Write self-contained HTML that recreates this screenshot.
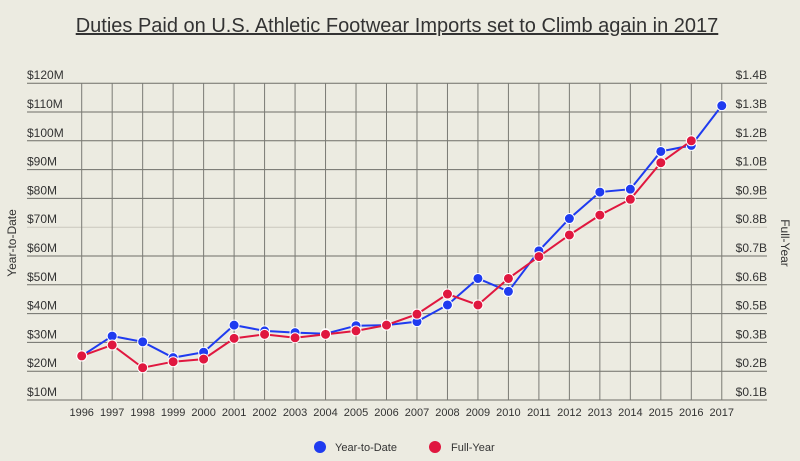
<!DOCTYPE html>
<html><head><meta charset="utf-8"><style>
body{margin:0;background:#ecebe1;}
svg{display:block;font-family:"Liberation Sans",sans-serif;}
</style></head><body>
<svg id="chart" width="800" height="461">
<rect width="800" height="461" fill="#ecebe1"/>
<text x="397" y="32" text-anchor="middle" font-size="20" fill="#333" text-decoration="underline">Duties Paid on U.S. Athletic Footwear Imports set to Climb again in 2017</text>
<g id="grid"></g><g id="axes"></g><g id="series"></g>
<text transform="translate(16,243) rotate(-90)" text-anchor="middle" font-size="12" fill="#333">Year-to-Date</text>
<text transform="translate(781,243) rotate(90)" text-anchor="middle" font-size="12" fill="#333">Full-Year</text>
<g>
<g><circle cx="320" cy="447" r="6" fill="#1f3bf0"/><text x="335" y="451" font-size="11" fill="#333">Year-to-Date</text></g>
<g><circle cx="435" cy="447" r="6" fill="#e0173f"/><text x="451" y="451" font-size="11" fill="#333">Full-Year</text></g>
</g>
</svg>
<script>
const years=[1996,1997,1998,1999,2000,2001,2002,2003,2004,2005,2006,2007,2008,2009,2010,2011,2012,2013,2014,2015,2016,2017];
const yearToDate=[25.3,32.2,30.2,24.7,26.6,36.0,34.0,33.4,33.0,35.8,36.0,37.2,43.0,52.2,47.7,61.8,73.0,82.2,83.2,96.3,98.4,112.2];
const fullYear=[25.3,29.1,21.2,23.3,24.2,31.4,32.8,31.6,32.8,34.0,36.0,39.8,46.8,43.0,52.2,59.8,67.3,74.2,79.7,92.4,100.0,null];
const leftTicks=[10,20,30,40,50,60,70,80,90,100,110,120];
const leftTickLabels=["$10M","$20M","$30M","$40M","$50M","$60M","$70M","$80M","$90M","$100M","$110M","$120M"];
const rightTickLabels=["$0.1B","$0.2B","$0.3B","$0.5B","$0.6B","$0.7B","$0.8B","$0.9B","$1.0B","$1.2B","$1.3B","$1.4B"];
const NS="http://www.w3.org/2000/svg";
function x(i){return 81.7+(i-0)*30.48;}
function y(v){return 400-(v-10)*2.88;}
function mk(t,a,p){const e=document.createElementNS(NS,t);for(const k in a)e.setAttribute(k,a[k]);p.appendChild(e);return e;}
const grid=document.getElementById('grid'),axes=document.getElementById('axes'),series=document.getElementById('series');
leftTicks.forEach((v,i)=>{
 const l=mk('line',{x1:27,x2:767,y1:y(v),y2:y(v),stroke:(v===70?'#c9c8be':'#6e6e68'),'stroke-width':1},grid);
 
 
 const t=mk('text',{x:27,y:y(v)-4,'font-size':12,fill:'#333'},axes);t.textContent=leftTickLabels[i];
 
 
 const r=mk('text',{x:767,y:y(v)-4,'font-size':12,fill:'#333','text-anchor':'end'},axes);r.textContent=rightTickLabels[i];
 
 
});
years.forEach((yr,i)=>{
 const l=mk('line',{x1:x(i),x2:x(i),y1:83,y2:400,stroke:'#7a7a74','stroke-width':1},grid);
 
 
 const t=mk('text',{x:x(i),y:416,'font-size':11,fill:'#333','text-anchor':'middle'},axes);t.textContent=yr;
 
 
});
function draw(vals,color,name){
 let d='';vals.forEach((v,i)=>{if(v==null)return;d+=(d?'L':'M')+x(i)+','+y(v);});
 const p=mk('path',{d:d,fill:'none',stroke:color,'stroke-width':2},series);
 
 
 vals.forEach((v,i)=>{if(v==null)return;
  const c=mk('circle',{cx:x(i),cy:y(v),r:5,fill:color,stroke:'#fff','stroke-width':1},series);
  
  
 });
}
draw(yearToDate,'#1f3bf0','year-to-date');
draw(fullYear,'#e0173f','full-year');
</script>
</body></html>
